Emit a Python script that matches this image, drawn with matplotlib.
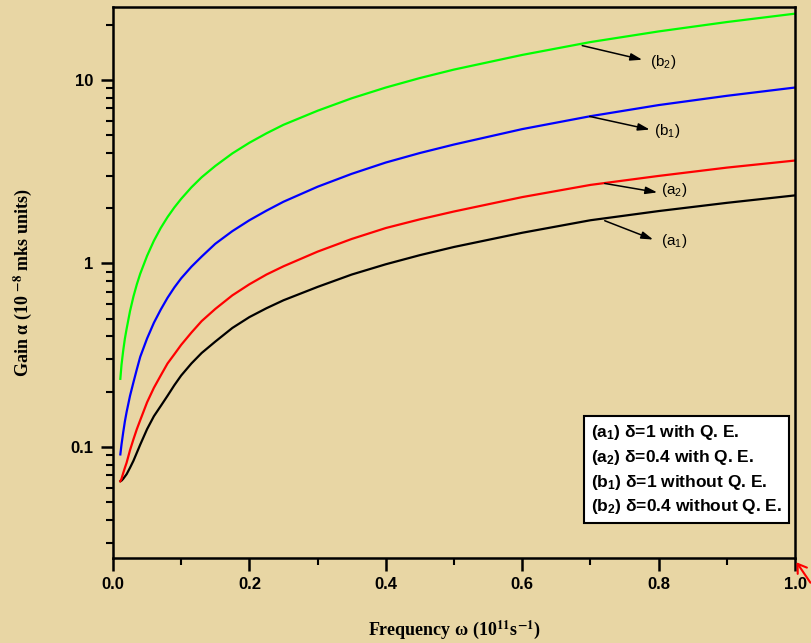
import matplotlib
matplotlib.use("Agg")
import matplotlib.pyplot as plt
from matplotlib.lines import Line2D
from matplotlib.ticker import FixedLocator, NullFormatter, LogLocator

# --- Données ---
omega = [0.0108, 0.0125, 0.015, 0.0175, 0.02, 0.025, 0.03, 0.035, 0.04, 0.05,
         0.06, 0.07, 0.08, 0.09, 0.1, 0.115, 0.13, 0.15, 0.175, 0.2,
         0.225, 0.25, 0.3, 0.35, 0.4, 0.45, 0.5, 0.6, 0.7, 0.8, 0.9, 1.0]

gain_a1 = [0.065, 0.0655, 0.067, 0.069, 0.071, 0.077, 0.084, 0.093, 0.103, 0.125,
           0.147, 0.167, 0.19, 0.217, 0.245, 0.285, 0.325, 0.375, 0.445, 0.51,
           0.57, 0.63, 0.745, 0.87, 0.99, 1.11, 1.23, 1.47, 1.72, 1.93, 2.14, 2.35]
gain_a2 = [0.065, 0.067, 0.072, 0.077, 0.082, 0.096, 0.11, 0.125, 0.14, 0.175,
           0.21, 0.245, 0.285, 0.32, 0.36, 0.42, 0.485, 0.565, 0.67, 0.77,
           0.87, 0.965, 1.16, 1.36, 1.56, 1.74, 1.92, 2.3, 2.68, 3.0, 3.33, 3.64]
gain_b1 = [0.091, 0.103, 0.12, 0.138, 0.155, 0.19, 0.225, 0.265, 0.31, 0.39,
           0.475, 0.56, 0.65, 0.74, 0.83, 0.96, 1.09, 1.28, 1.5, 1.72,
           1.94, 2.17, 2.62, 3.08, 3.55, 4.0, 4.45, 5.4, 6.35, 7.3, 8.2, 9.1]
gain_b2 = [0.235, 0.28, 0.335, 0.39, 0.44, 0.55, 0.66, 0.77, 0.88, 1.1,
           1.33, 1.56, 1.79, 2.02, 2.25, 2.6, 2.95, 3.4, 3.98, 4.55,
           5.12, 5.7, 6.8, 7.95, 9.1, 10.25, 11.4, 13.7, 16.1, 18.4, 20.7, 23.0]

courbes = [
    ("a1", gain_a1, "black"),
    ("a2", gain_a2, "#FF0000"),
    ("b1", gain_b1, "#0000FF"),
    ("b2", gain_b2, "#00FF00"),
]

# étiquettes fléchées : (texte, queue, pointe, position du texte)
etiquettes = [
    (r"(b$_2$)", (0.688, 15.4), (0.776, 12.9), (0.806, 12.6)),
    (r"(b$_1$)", (0.699, 6.33), (0.787, 5.37), (0.812, 5.25)),
    (r"(a$_2$)", (0.721, 2.73), (0.798, 2.44), (0.822, 2.53)),
    (r"(a$_1$)", (0.721, 1.71), (0.792, 1.35), (0.822, 1.32)),
]

legende = [
    r"(a$_\mathregular{1}$) δ=1 with Q. E.",
    r"(a$_\mathregular{2}$) δ=0.4 with Q. E.",
    r"(b$_\mathregular{1}$) δ=1 without Q. E.",
    r"(b$_\mathregular{2}$) δ=0.4 without Q. E.",
]

xticks = [0.0, 0.2, 0.4, 0.6, 0.8, 1.0]
yticks = [0.1, 1, 10]
ytick_labels = ["0.1", "1", "10"]

# --- Style ---
plt.rcParams["font.family"] = ["Liberation Sans", "DejaVu Sans"]
plt.rcParams["mathtext.fontset"] = "custom"
plt.rcParams["mathtext.rm"] = "Liberation Sans"
plt.rcParams["mathtext.it"] = "Liberation Sans:italic"
plt.rcParams["mathtext.bf"] = "Liberation Sans:bold"

fond = "#E8D6A4"
fig = plt.figure(figsize=(8.11, 6.43), dpi=100, facecolor=fond)
ax = fig.add_axes([0.1393, 0.1322, 0.841, 0.8569])
ax.set_facecolor(fond)

for nom, valeurs, couleur in courbes:
    ax.plot(omega, valeurs, color=couleur, linewidth=1.6)

ax.set_yscale("log")
ax.set_xlim(0.0, 1.0)
ax.set_ylim(0.0248, 25)

ax.set_xticks(xticks)
ax.set_xticklabels([f"{t:.1f}" for t in xticks])
ax.xaxis.set_minor_locator(FixedLocator([0.1, 0.3, 0.5, 0.7, 0.9]))
ax.set_yticks(yticks)
ax.set_yticklabels(ytick_labels)
ax.yaxis.set_minor_locator(LogLocator(base=10, subs=range(2, 10)))
ax.yaxis.set_minor_formatter(NullFormatter())

ax.tick_params(which="major", direction="out", length=9, width=1.8,
               labelsize=12, pad=5)
ax.tick_params(which="minor", direction="out", length=5, width=1.5)
for lab in ax.get_xticklabels() + ax.get_yticklabels():
    lab.set_fontweight("bold")
for sp in ax.spines.values():
    sp.set_linewidth(1.8)

ax.set_xlabel(r"Frequency ω (10$^{\mathbf{11}}$s$^{\mathbf{-1}}$)",
              family="Liberation Serif", fontweight="bold", fontsize=13,
              math_fontfamily="stix", labelpad=19)
ax.set_ylabel(r"Gain α (10 $^{\mathbf{-8}}$ mks units)",
              family="Liberation Serif", fontweight="bold", fontsize=13,
              math_fontfamily="stix", labelpad=26)

# flèches + étiquettes
for texte, queue, pointe, pos in etiquettes:
    ax.annotate("", xy=pointe, xytext=queue,
                arrowprops=dict(arrowstyle="-|>,head_length=0.7,head_width=0.22",
                                color="black", lw=1.1, shrinkA=0, shrinkB=0))
    ax.text(pos[0], pos[1], texte, fontsize=11, ha="center", va="center")

# légende sans symboles
poignees = [Line2D([], [], linestyle="none") for _ in legende]
leg = ax.legend(poignees, legende, loc="lower right", bbox_to_anchor=(0.991, 0.0635),
                borderaxespad=0, handlelength=0, handletextpad=0, fancybox=False,
                framealpha=1, edgecolor="black", facecolor="white", labelspacing=0.32,
                borderpad=0.4, prop={"weight": "bold", "size": 12.5})
leg.get_frame().set_linewidth(1.5)

# petite flèche rouge au coin
fig.patches.append(matplotlib.patches.FancyArrowPatch(
    (812 / 811, 1 - 585 / 643), (795 / 811, 1 - 560 / 643),
    transform=fig.transFigure, arrowstyle="->,head_length=6,head_width=4",
    color="red", lw=1.5))

fig.savefig("out.png", dpi=100, facecolor=fond)
